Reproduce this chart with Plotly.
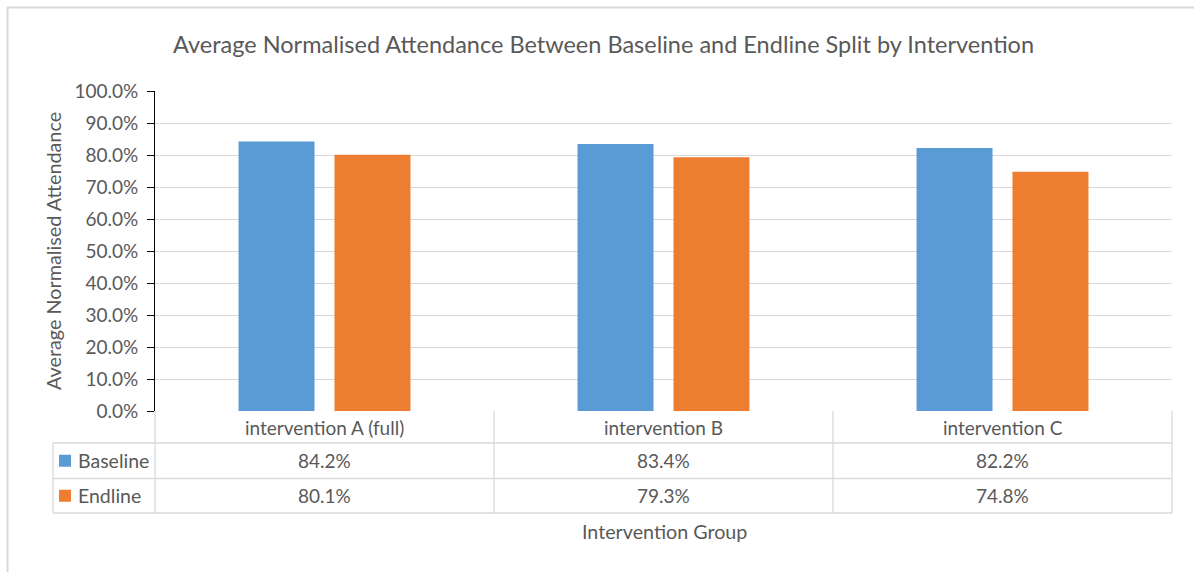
import plotly.graph_objects as go

# ---- data ----
groups = ["intervention A (full)", "intervention B", "intervention C"]
baseline = [0.842, 0.834, 0.822]
endline = [0.801, 0.793, 0.748]
series_names = ["Baseline", "Endline"]
series_colors = ["#5B9BD5", "#ED7D31"]

title_text = "Average Normalised Attendance Between Baseline and Endline Split by Intervention"
y_title = "Average Normalised Attendance"
x_title = "Intervention Group"

# ---- geometry (pixels) ----
W, H = 1194, 572
ML, MR, MT, MB = 155, 22, 91, 161
PW, PH = W - ML - MR, H - MT - MB

def px_x(p):
    return (p - ML) / PW

def px_y(p):
    return (H - MB - p) / PH

TEXT = "#595959"
GRID = "#D9D9D9"
FONT = "Lato, 'Open Sans', sans-serif"

fig = go.Figure()
for name, vals, col in zip(series_names, [baseline, endline], series_colors):
    fig.add_trace(go.Bar(x=groups, y=vals, name=name, marker=dict(color=col, line=dict(width=0))))

shapes = []
line = dict(color=GRID, width=1.3)
# table rows (header, baseline, endline)
row_edges = [px_y(443), px_y(478.5), px_y(513)]
col_left = px_x(53)
for ry in row_edges:
    shapes.append(dict(type="line", xref="paper", yref="paper", x0=col_left, x1=1, y0=ry, y1=ry, line=line))
shapes.append(dict(type="line", xref="paper", yref="paper", x0=col_left, x1=col_left,
                   y0=row_edges[0], y1=row_edges[-1], line=line))
for i in range(len(groups) + 1):
    xv = i / len(groups)
    shapes.append(dict(type="line", xref="paper", yref="paper", x0=xv, x1=xv,
                       y0=0, y1=row_edges[-1], line=line))
# outer frame
shapes.append(dict(type="line", xref="paper", yref="paper", x0=px_x(7), x1=px_x(W + 5),
                   y0=px_y(7.5), y1=px_y(7.5), line=dict(color=GRID, width=2)))
shapes.append(dict(type="line", xref="paper", yref="paper", x0=px_x(7.5), x1=px_x(7.5),
                   y0=px_y(7), y1=px_y(H + 5), line=dict(color=GRID, width=2)))

annotations = []
tfont = dict(family=FONT, size=19, color=TEXT)
header_y = (0 + row_edges[0]) / 2
row_centers = [(row_edges[0] + row_edges[1]) / 2, (row_edges[1] + row_edges[2]) / 2]
for g in groups:
    annotations.append(dict(x=g, xref="x", y=header_y, yref="paper", text=g, showarrow=False,
                            font=tfont, xanchor="center", yanchor="middle"))
for vals, name, col, cy in zip([baseline, endline], series_names, series_colors, row_centers):
    for g, v in zip(groups, vals):
        annotations.append(dict(x=g, xref="x", y=cy, yref="paper", text=f"{v:.1%}", showarrow=False,
                                font=tfont, xanchor="center", yanchor="middle"))
    # legend key in first column
    half = 6 / PH
    shapes.append(dict(type="rect", xref="paper", yref="paper", x0=px_x(59), x1=px_x(71),
                       y0=cy - half, y1=cy + half, fillcolor=col, line=dict(width=0)))
    annotations.append(dict(x=px_x(76), xref="paper", y=cy, yref="paper", text=name, showarrow=False,
                            font=dict(family=FONT, size=19.5, color=TEXT), xanchor="left", yanchor="middle"))

annotations.append(dict(x=px_x(53), xref="paper", y=0.5, yref="paper", text=y_title, textangle=-90,
                        showarrow=False, font=dict(family=FONT, size=19.8, color=TEXT),
                        xanchor="center", yanchor="middle"))
annotations.append(dict(x=px_x(664), xref="paper", y=px_y(531), yref="paper", text=x_title,
                        showarrow=False, font=dict(family=FONT, size=19.7, color=TEXT),
                        xanchor="center", yanchor="middle"))
annotations.append(dict(x=px_x(603), xref="paper", y=px_y(44), yref="paper", text=title_text,
                        showarrow=False, font=dict(family=FONT, size=23.5, color=TEXT),
                        xanchor="center", yanchor="middle"))

fig.update_layout(
    width=W, height=H,
    margin=dict(l=ML, r=MR, t=MT, b=MB, pad=0),
    paper_bgcolor="white", plot_bgcolor="white",
    showlegend=False,
    barmode="group", bargap=0.434, bargroupgap=0.208,
    xaxis=dict(showticklabels=False, ticks="", showgrid=False, showline=False, zeroline=False,
               fixedrange=True),
    yaxis=dict(range=[0, 1], dtick=0.1, tick0=0, tickformat=".1%", showgrid=True, gridcolor=GRID,
               gridwidth=1.3, showline=True, linecolor="#000000", linewidth=1, ticks="outside",
               ticklen=7, tickcolor="#000000", zeroline=False,
               tickfont=dict(family=FONT, size=19, color=TEXT), ticklabelstandoff=5),
    shapes=shapes, annotations=annotations,
)

fig.write_html("out.html")
